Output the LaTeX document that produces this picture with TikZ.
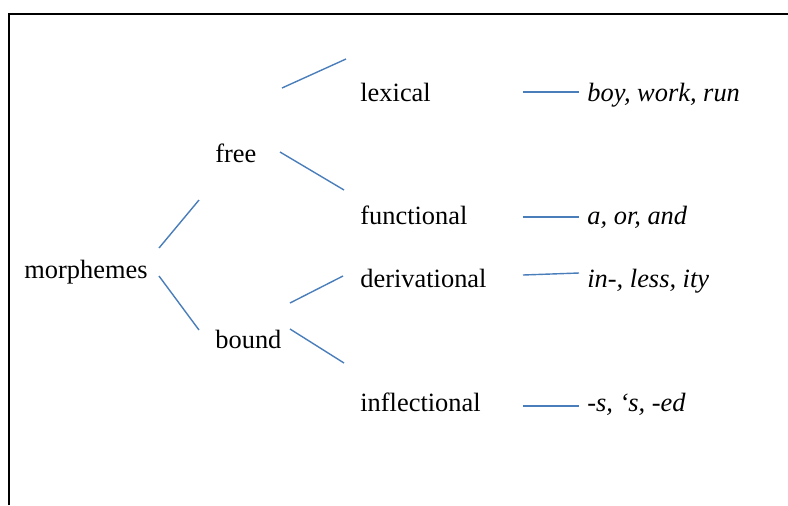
\documentclass[tikz,border=0pt]{standalone}
\usepackage{fontspec}
\setmainfont{Liberation Serif}
\usetikzlibrary{positioning}
\definecolor{branch}{RGB}{74,126,187}

\begin{document}
\begin{tikzpicture}[
  x=0.5pt, y=-0.5pt,
  font=\fontsize{13.2}{16}\selectfont,
  word/.style={anchor=base west, inner sep=0pt},
  ex/.style={word, font=\fontsize{13.2}{16}\selectfont\itshape},
  br/.style={branch, line width=0.7pt}
]
\useasboundingbox (0,0) rectangle (788,505);
\draw[line width=1pt] (9,505) -- (9,14) -- (788,14);

\node[word] (mor)  at (24,278)  {morphemes};
\node[word] (free) at (215,162) {free};
\node[word] (bnd)  at (215,348) {bound};
\node[word] (lex)  at (360,101) {lexical};
\node[word] (fun)  at (360,224) {functional};
\node[word] (der)  at (360,287) {derivational};
\node[word] (inf)  at (360,411) {inflectional};

\node[ex] (exlex) at (587,101) {boy, work, run};
\node[ex] (exfun) at (587,224) {a, or, and};
\node[ex] (exder) at (587,287) {in-, less, ity};
\node[ex] (exinf) at (587,411) {-s, `s, -ed};

% branch ends
\coordinate (m1) at (159,248); \coordinate (f0) at (199,200);
\coordinate (m2) at (159,276); \coordinate (b0) at (199,330);
\coordinate (f1) at (282,88);  \coordinate (l0) at (346,59);
\coordinate (f2) at (280,152); \coordinate (u0) at (344,190);
\coordinate (b1) at (290,303); \coordinate (d0) at (343,276);
\coordinate (b2) at (290,329); \coordinate (i0) at (344,363);
\coordinate (l1) at (523,92);  \coordinate (l2) at (579,92);
\coordinate (u1) at (523,217); \coordinate (u2) at (579,217);
\coordinate (d1) at (523,275); \coordinate (d2) at (579,273);
\coordinate (i1) at (523,406); \coordinate (i2) at (579,406);

\draw[br] (m1) -- (f0);
\draw[br] (m2) -- (b0);
\draw[br] (f1) -- (l0);
\draw[br] (f2) -- (u0);
\draw[br] (b1) -- (d0);
\draw[br] (b2) -- (i0);
\draw[br] (l1) -- (l2);
\draw[br] (u1) -- (u2);
\draw[br] (d1) -- (d2);
\draw[br] (i1) -- (i2);
\end{tikzpicture}
\end{document}
